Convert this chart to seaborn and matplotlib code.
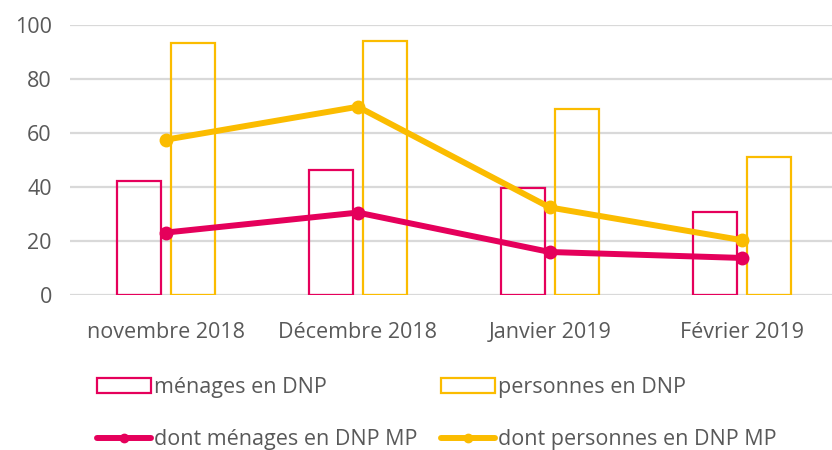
import matplotlib
matplotlib.use("Agg")
import matplotlib.pyplot as plt
import seaborn as sns
import pandas as pd
import numpy as np
from matplotlib.patches import Rectangle
from matplotlib.lines import Line2D

months = ["novembre 2018", "Décembre 2018", "Janvier 2019", "Février 2019"]
menages_dnp = [42.2, 46.3, 39.7, 30.9]
personnes_dnp = [93.3, 94.2, 69.0, 51.2]
menages_dnp_mp = [23.2, 30.6, 16.0, 13.8]
personnes_dnp_mp = [57.6, 69.8, 32.5, 20.4]
yticks = [0, 20, 40, 60, 80, 100]

PINK = "#E5005B"
YELLOW = "#FBBC00"
GREY = "#595959"

sns.set_theme(style="white")
plt.rcParams["font.family"] = ["Open Sans", "DejaVu Sans"]

df = pd.DataFrame({
    "month": months * 2,
    "serie": ["ménages en DNP"] * 4 + ["personnes en DNP"] * 4,
    "value": menages_dnp + personnes_dnp,
})

fig = plt.figure(figsize=(8.32, 4.5), dpi=100)
ax = fig.add_axes([0.084, 0.344, 0.916, 0.6])

sns.barplot(data=df, x="month", y="value", hue="serie", order=months,
            palette=[PINK, YELLOW], fill=False, width=0.56, gap=0.18,
            linewidth=1.6, legend=False, ax=ax, errorbar=None, zorder=3)

xpos = np.arange(len(months))
sns.lineplot(x=xpos, y=menages_dnp_mp, color=PINK, linewidth=4.3,
             marker="o", markersize=10, markeredgewidth=0, ax=ax, zorder=5)
sns.lineplot(x=xpos, y=personnes_dnp_mp, color=YELLOW, linewidth=4.3,
             marker="o", markersize=10, markeredgewidth=0, ax=ax, zorder=5)

ax.set_ylim(0, 100)
ax.set_xlim(-0.5, 3.47)
ax.set_yticks(yticks)
ax.set_yticklabels([str(v) for v in yticks])
ax.set_xticks(xpos)
ax.set_xticklabels(months)
ax.set_xlabel("")
ax.set_ylabel("")
ax.yaxis.grid(True, color="#D9D9D9", linewidth=1.6, zorder=0)
ax.set_axisbelow(True)
for s in ax.spines.values():
    s.set_visible(False)
ax.tick_params(axis="both", length=0, labelsize=15.5, colors=GREY)
ax.tick_params(axis="x", pad=19)
ax.tick_params(axis="y", pad=13)

handles = [
    Rectangle((0, 0), 1, 1, facecolor="white", edgecolor=PINK, linewidth=1.6),
    Line2D([], [], color=PINK, linewidth=4.3, marker="o", markersize=6),
    Rectangle((0, 0), 1, 1, facecolor="white", edgecolor=YELLOW, linewidth=1.6),
    Line2D([], [], color=YELLOW, linewidth=4.3, marker="o", markersize=6),
]
labels = ["ménages en DNP", "dont ménages en DNP MP",
          "personnes en DNP", "dont personnes en DNP MP"]
leg = fig.legend(handles, labels, ncol=2, loc="upper left",
                 bbox_to_anchor=(0.117, 0.162), frameon=False,
                 fontsize=15.5, handlelength=2.5, handleheight=0.7,
                 handletextpad=0.15, columnspacing=1.1, labelspacing=1.45,
                 borderaxespad=0, borderpad=0)
for t in leg.get_texts():
    t.set_color(GREY)

fig.savefig("out.png", dpi=100)
